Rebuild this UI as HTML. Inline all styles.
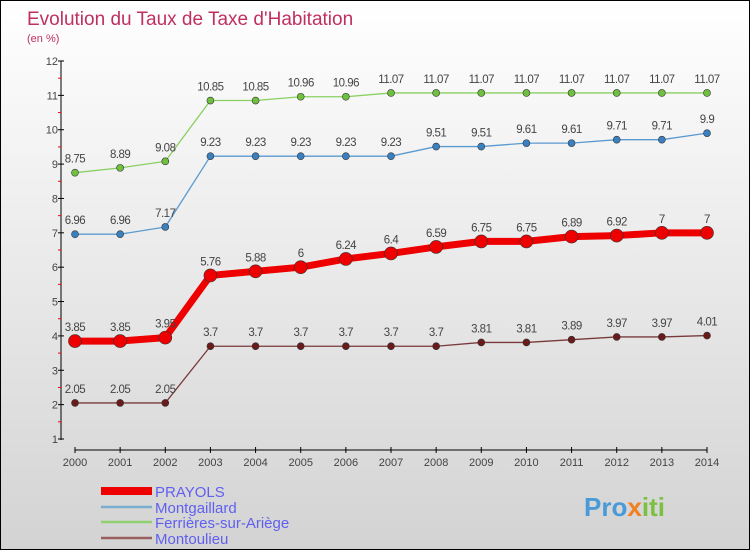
<!DOCTYPE html>
<html><head><meta charset="utf-8"><style>
html,body{margin:0;padding:0}
body{width:750px;height:550px;overflow:hidden;font-family:"Liberation Sans",sans-serif}
#wrap{position:relative;width:748px;height:548px;border:1px solid #000;background:linear-gradient(#ffffff,#d3d3d3)}
svg text{font-family:"Liberation Sans",sans-serif}
</style></head><body>
<div id="wrap">
<svg id="chart" width="748" height="548">
<text x="26" y="24" font-size="19" fill="#c0305f">Evolution du Taux de Taxe d'Habitation</text>
<text x="26" y="41" font-size="11" fill="#c0305f">(en %)</text>
<text x="583" y="515" font-size="26" font-weight="bold" fill="#4a9ad8">Pro<tspan fill="#f08020">x</tspan><tspan fill="#7cc040">iti</tspan></text>
</svg>
</div>
<script>
const years=[2000,2001,2002,2003,2004,2005,2006,2007,2008,2009,2010,2011,2012,2013,2014];
const prayols=[3.85,3.85,3.95,5.76,5.88,6,6.24,6.4,6.59,6.75,6.75,6.89,6.92,7,7];
const montgaillard=[6.96,6.96,7.17,9.23,9.23,9.23,9.23,9.23,9.51,9.51,9.61,9.61,9.71,9.71,9.9];
const ferrieres=[8.75,8.89,9.08,10.85,10.85,10.96,10.96,11.07,11.07,11.07,11.07,11.07,11.07,11.07,11.07];
const montoulieu=[2.05,2.05,2.05,3.7,3.7,3.7,3.7,3.7,3.7,3.81,3.81,3.89,3.97,3.97,4.01];
const yTicks=[1,2,3,4,5,6,7,8,9,10,11,12];
const seriesNames=["PRAYOLS","Montgaillard","Ferrières-sur-Ariège","Montoulieu"];

const svg=document.getElementById('chart');
const NS='http://www.w3.org/2000/svg';
const X=i=>74+i*(632/(years.length-1));
const Y=v=>438-(v-1)*(378/11);
function mk(tag,attrs,parent){const e=document.createElementNS(NS,tag);for(const k in attrs)e.setAttribute(k,attrs[k]);(parent||svg).appendChild(e);return e;}

let ax=mk('line',{x1:60,y1:Y(12),x2:60,y2:Y(1)+1,stroke:'#000'});


yTicks.forEach(t=>{
  mk('line',{x1:57,y1:Y(t),x2:63,y2:Y(t),stroke:'#000'});
  if(t<12) mk('line',{x1:57,y1:Y(t+0.5),x2:60,y2:Y(t+0.5),stroke:'#f00'});
  const tx=mk('text',{x:57,y:Y(t)+4,'font-size':11,'text-anchor':'end',fill:'#444'});
  tx.textContent=t;
  
  
});
let xa=mk('line',{x1:X(0),y1:449,x2:X(years.length-1),y2:449,stroke:'#000'});


years.forEach((y,i)=>{
  mk('line',{x1:X(i),y1:446,x2:X(i),y2:452,stroke:'#000'});
  const tx=mk('text',{x:X(i),y:465,'font-size':11,'text-anchor':'middle',fill:'#444'});
  tx.textContent=y;
  
  
});

function series(data,name,color,dot,w,r){
  const g=mk('g',{});
  
  
  const pts=data.map((v,i)=>X(i)+','+Y(v)).join(' ');
  const pl=mk('polyline',{points:pts,fill:'none',stroke:color,'stroke-width':w,'stroke-linejoin':'round'},g);
  
  
  data.forEach((v,i)=>{
    const c=mk('circle',{cx:X(i),cy:Y(v),r:r,fill:dot,stroke:'#333','stroke-width':0.6},g);
    
    
    const t=mk('text',{x:X(i),y:Y(v)-10,'font-size':11.5,'text-anchor':'middle',fill:'#444','letter-spacing':'-0.5'},g);
    t.textContent=v;
    
    
  });
}
series(montoulieu,'montoulieu','#7a3a3a','#6a1a1a',1.3,3.5);
series(montgaillard,'montgaillard','#5a9ad0','#3a80c0',1.3,3.5);
series(ferrieres,'ferrieres','#88d060','#70c040',1.3,3.5);
series(prayols,'prayols','#ee0000','#ee0000',7,6.5);

const lc=['#ee0000','#7aaed0','#90d070','#9a6060'];
const lw=[8,2.5,2.5,2.5];
const ly=[491,507,522,538];
seriesNames.forEach((n,i)=>{
  const g=mk('g',{});
  
  
  mk('line',{x1:100,y1:ly[i]-1,x2:151,y2:ly[i]-1,stroke:lc[i],'stroke-width':lw[i]},g);
  const t=mk('text',{x:154,y:ly[i]+5,'font-size':15,fill:'#6060f0'},g);
  t.textContent=n;
});
</script>
</body></html>
